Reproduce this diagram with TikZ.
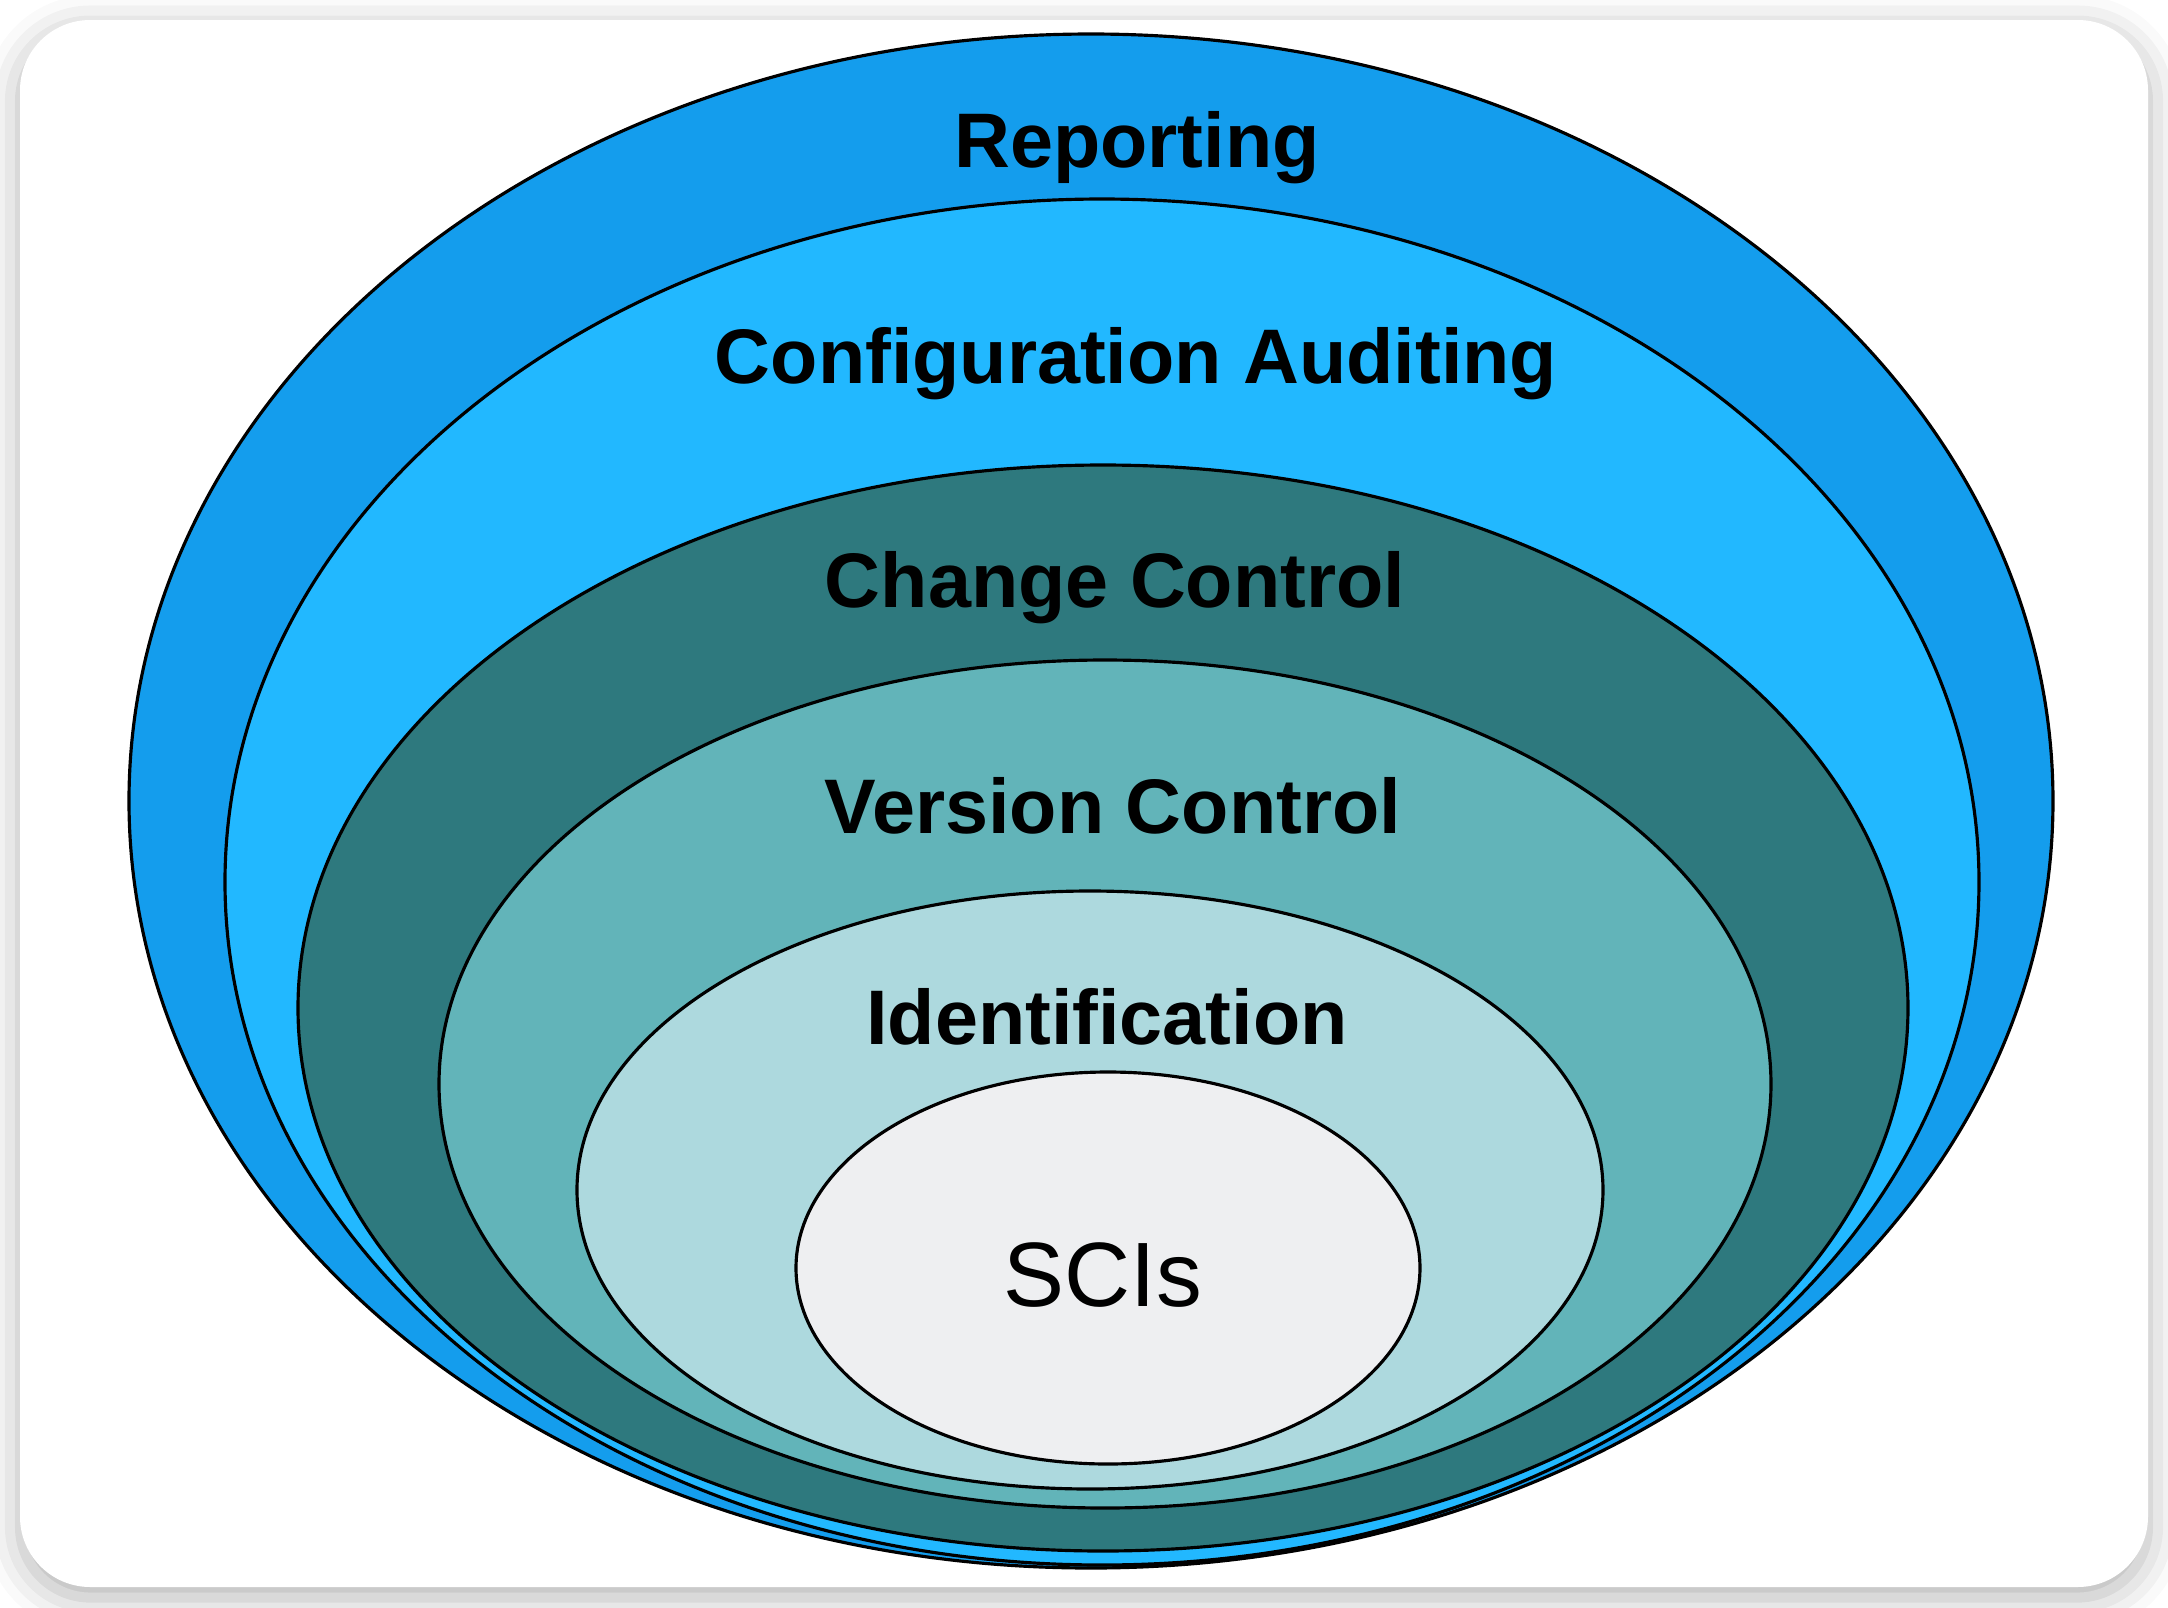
\documentclass[tikz,border=0pt]{standalone}
\usepackage{fontspec}
\setmainfont{Liberation Sans}
\usetikzlibrary{shadows.blur}
\definecolor{white}{RGB}{255,255,255}
\definecolor{black}{RGB}{0,0,0}
\definecolor{report_blue}{RGB}{20,157,237}
\definecolor{audit_blue}{RGB}{34,184,255}
\definecolor{change_teal}{RGB}{46,121,126}
\definecolor{version_teal}{RGB}{98,180,185}
\definecolor{ident_teal}{RGB}{173,217,222}
\definecolor{sci_grey}{RGB}{238,239,241}

\begin{document}
\begin{tikzpicture}[x=0.01cm,y=-0.01cm]
	\useasboundingbox (0,0) rectangle (2168,1608);
	\fill[white,rounded corners=20pt,blur shadow={shadow xshift=0pt,shadow yshift=-3pt,shadow blur radius=10pt,shadow opacity=30}] (20,20) rectangle (2148,1587);
	
	\foreach \cx/\cy/\rx/\ry/\col in {1091/801/962/767/report_blue,1102/882/877/683/audit_blue,1103/1008/805/543/change_teal,1105/1084/666/424/version_teal,1090/1190/513/299/ident_teal,1108/1268/312/196/sci_grey}
		\draw[black,line width=0.9pt,fill=\col] (\cx,\cy) ellipse ({\rx} and {\ry});
	
	\node[anchor=base,font=\fontsize{22}{26}\selectfont\bfseries] (rep) at (1137,167) {Reporting};
	\node[anchor=base,font=\fontsize{22}{26}\selectfont\bfseries] (aud) at (1136,383) {Configuration Auditing};
	\node[anchor=base,font=\fontsize{22}{26}\selectfont\bfseries] (chg) at (1115,607) {Change Control};
	\node[anchor=base,font=\fontsize{22}{26}\selectfont\bfseries] (ver) at (1113,833) {Version Control};
	\node[anchor=base,font=\fontsize{22}{26}\selectfont\bfseries] (idf) at (1107,1044) {Identification};
	\node[anchor=base,font=\fontsize{26}{30}\selectfont] (sci) at (1103,1306) {SCIs};
\end{tikzpicture}
\end{document}
